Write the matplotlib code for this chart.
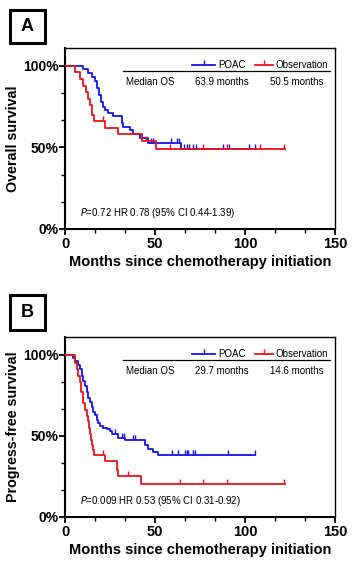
import numpy as np
import matplotlib
matplotlib.use("Agg")
import matplotlib.pyplot as plt
from matplotlib.patches import Rectangle
from matplotlib.ticker import MultipleLocator

plt.rcParams['font.family'] = ['Liberation Sans', 'DejaVu Sans']

BLUE = '#1414ee'
RED = '#e8141c'

# panel A - overall survival (months, % surviving)
a_poac_t = [0, 10.2, 13, 14.8, 16.7, 17.6, 19.1, 19.8, 20.9, 22.2, 24.1, 26.9, 29.6,
            31.5, 32.4, 36.1, 38, 41.7, 46, 64.2, 105.6]
a_poac_s = [100, 98, 95.5, 93.5, 90.5, 86.5, 82, 78, 75, 73, 71, 69.5, 69,
            65, 62.8, 60.8, 58.2, 55.7, 53, 49, 49]
a_poac_cens = [47.5, 49, 59, 62, 63.5, 66, 67.5, 69, 71, 72.5, 88, 91, 102, 105.6]

a_obs_t = [0, 5.6, 8.3, 10.2, 11.7, 13, 13.9, 14.8, 16, 22.2, 29.6, 42.6, 50.8, 122]
a_obs_s = [100, 96, 92, 88, 84, 80, 76, 70, 66, 62, 58, 54, 49, 49]
a_obs_cens = [21, 45, 58.3, 76.9, 90, 108.3, 121.7]

# panel B - progression-free survival
b_poac_t = [0, 4.6, 5.6, 7, 8.3, 9.3, 10.2, 11.1, 12, 13, 13.9, 14.8, 15.7, 16.7,
            17.6, 18.5, 19.4, 21.3, 23.1, 25, 26, 29.7, 33.3, 44.4, 46.3, 49.1, 51.9, 105.6]
b_poac_s = [100, 98, 96, 94, 91, 87, 84, 80.5, 77, 73.5, 71, 68, 65, 63,
            60, 58, 56, 55, 54, 53, 51.3, 48.7, 47.2, 44.5, 42, 40, 38.4, 38.4]
b_poac_cens = [27.8, 31.5, 32.5, 38, 39, 59.3, 63, 66.7, 67.6, 68.5, 71.3, 72.2, 90.7, 105.6]

b_obs_t = [0, 5.6, 6.5, 7.4, 8.3, 8.9, 10.2, 11.1, 12, 12.6, 13.3, 13.9, 14.6, 15.2,
           15.7, 16.3, 22.2, 28.7, 29.6, 42.2, 122]
b_obs_s = [100, 95, 91, 87, 83, 77, 70, 66, 62, 59, 55, 51, 47.6, 44.5,
           41.5, 38.5, 34.3, 29, 25.5, 20.5, 20.5]
b_obs_cens = [21.3, 35.2, 63.9, 76.9, 89.8, 121.7]

labels = ["A", "B"]
ylabels = ["Overall survival", "Progress-free survival"]
medians = [["63.9 months", "50.5 months"], ["29.7 months", "14.6 months"]]
stats = ["=0.72 HR 0.78 (95% CI 0.44-1.39)", "=0.009 HR 0.53 (95% CI 0.31-0.92)"]
series = [
    [(a_poac_t, a_poac_s, a_poac_cens), (a_obs_t, a_obs_s, a_obs_cens)],
    [(b_poac_t, b_poac_s, b_poac_cens), (b_obs_t, b_obs_s, b_obs_cens)],
]

W, H = 352, 565
fig = plt.figure(figsize=(W / 100, H / 100), dpi=100)


def px(x0, y0, x1, y1):
    return [x0 / W, 1 - y1 / H, (x1 - x0) / W, (y1 - y0) / H]


def surv_at(t, s, x):
    idx = np.searchsorted(t, x, side='right') - 1
    return np.array(s)[idx]


def to_x(p):
    # pixel column -> months
    return (p - 65) / 270 * 150


panels = [(48, 229, 10, 43), (337, 517, 295, 330)]

for i, (top, bot, bt, bb) in enumerate(panels):
    ax = fig.add_axes(px(65, top, 335, bot))
    for (t, s, cens), col in zip(series[i], [BLUE, RED]):
        ax.step(t, s, where='post', color=col, lw=1.3, zorder=3)
        ax.plot(cens, surv_at(t, s, cens), ls='none', marker=2, ms=3.5,
                mew=1.0, color=col, zorder=3)
    ax.set_xlim(0, 150)
    ax.set_ylim(0, 111)
    ax.set_yticks([0, 50, 100])
    ax.set_yticklabels(["0%", "50%", "100%"])
    ax.set_xticks([0, 50, 100, 150])
    ax.xaxis.set_minor_locator(MultipleLocator(50 / 3))
    ax.yaxis.set_minor_locator(MultipleLocator(50 / 3))
    ax.tick_params(which='major', length=4, width=1.3, pad=1.5)
    ax.tick_params(which='minor', length=3, width=1.0)
    ax.tick_params(axis='x', labelsize=10.5)
    ax.tick_params(axis='y', labelsize=10, pad=0.5)
    for lab in ax.get_xticklabels() + ax.get_yticklabels():
        lab.set_fontweight('bold')
    for side in ['left', 'bottom']:
        ax.spines[side].set_linewidth(1.5)
    for side in ['top', 'right']:
        ax.spines[side].set_linewidth(1.0)
    ax.set_xlabel("Months since chemotherapy initiation", fontsize=10.5,
                  fontweight='bold', labelpad=3)
    ax.set_ylabel(ylabels[i], fontsize=10.3, fontweight='bold', labelpad=2)

    # legend + median row
    y_leg = 100.5
    y_line = 97
    y_med = 90
    ax.plot([to_x(192), to_x(215)], [y_leg, y_leg], color=BLUE, lw=1.3)
    ax.plot([to_x(203.5)], [y_leg], marker=2, ms=3.5, mew=1, color=BLUE)
    ax.text(to_x(218), y_leg, "POAC", fontsize=7, va='center')
    ax.plot([to_x(255), to_x(273)], [y_leg, y_leg], color=RED, lw=1.3)
    ax.plot([to_x(264)], [y_leg], marker=2, ms=3.5, mew=1, color=RED)
    ax.text(to_x(276), y_leg, "Observation", fontsize=7, va='center')
    ax.plot([to_x(123), to_x(330)], [y_line, y_line], color='black', lw=0.9)
    ax.text(to_x(126), y_med, "Median OS", fontsize=7, va='center')
    ax.text(to_x(195), y_med, medians[i][0], fontsize=7, va='center')
    ax.text(to_x(270), y_med, medians[i][1], fontsize=7, va='center')
    ax.text(to_x(80), 10, "$\\it{P}$" + stats[i], fontsize=7, va='center')

    fig.add_artist(Rectangle((10 / W, 1 - bb / H), 35 / W, (bb - bt) / H,
                             transform=fig.transFigure, fill=False, lw=2.2,
                             edgecolor='black'))
    fig.text(27.5 / W, 1 - (bt + bb) / 2 / H, labels[i], fontsize=13,
             fontweight='bold', ha='center', va='center')

fig.savefig("out.png", dpi=100)
